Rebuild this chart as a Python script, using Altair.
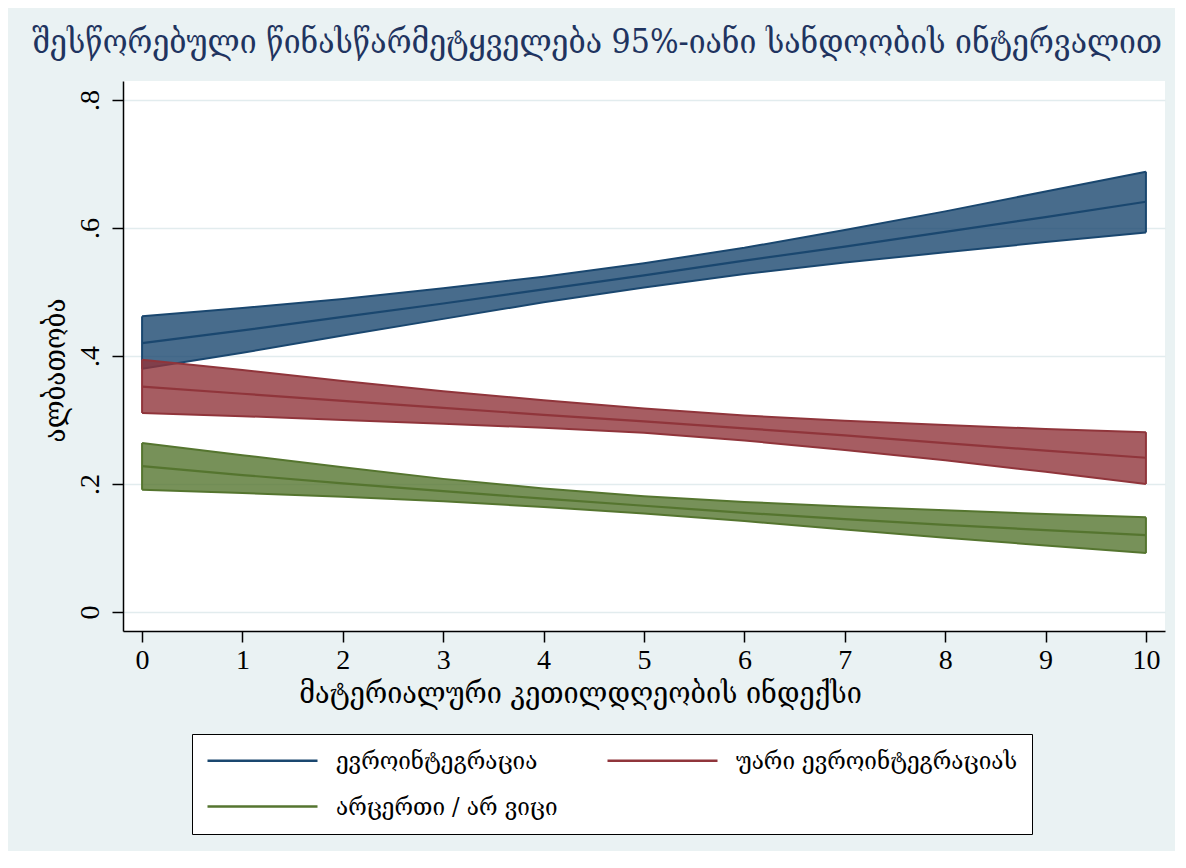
import altair as alt
import pandas as pd

# ---- data ----
x_vals = [0, 1, 2, 3, 4, 5, 6, 7, 8, 9, 10]

series_names = ["ევროინტეგრაცია", "უარი ევროინტეგრაციას", "არცერთი / არ ვიცი"]
series_colors = ["#1a476f", "#90353b", "#55752f"]

euro_mid = [0.420, 0.440, 0.461, 0.482, 0.504, 0.526, 0.549, 0.571, 0.594, 0.617, 0.641]
euro_hi = [0.462, 0.475, 0.489, 0.506, 0.524, 0.545, 0.569, 0.597, 0.626, 0.657, 0.688]
euro_lo = [0.380, 0.405, 0.432, 0.458, 0.484, 0.507, 0.528, 0.546, 0.562, 0.578, 0.593]

refuse_mid = [0.352, 0.341, 0.330, 0.319, 0.308, 0.298, 0.287, 0.276, 0.264, 0.252, 0.241]
refuse_hi = [0.394, 0.378, 0.361, 0.345, 0.331, 0.318, 0.307, 0.299, 0.292, 0.286, 0.281]
refuse_lo = [0.311, 0.306, 0.300, 0.294, 0.288, 0.280, 0.268, 0.253, 0.237, 0.219, 0.200]

none_mid = [0.228, 0.214, 0.201, 0.189, 0.177, 0.166, 0.155, 0.145, 0.136, 0.128, 0.120]
none_hi = [0.264, 0.245, 0.226, 0.208, 0.193, 0.181, 0.172, 0.165, 0.159, 0.153, 0.148]
none_lo = [0.191, 0.186, 0.180, 0.173, 0.164, 0.154, 0.142, 0.129, 0.116, 0.104, 0.092]

y_ticks = [0, 0.2, 0.4, 0.6, 0.8]

title_text = "შესწორებული წინასწარმეტყველება 95%-იანი სანდოობის ინტერვალით"
x_title = "მატერიალური კეთილდღეობის ინდექსი"
y_title = "ალბათობა"

rows = []
for k, (mids, his, los) in enumerate([
    (euro_mid, euro_hi, euro_lo),
    (refuse_mid, refuse_hi, refuse_lo),
    (none_mid, none_hi, none_lo),
]):
    for i, xv in enumerate(x_vals):
        rows.append({"x": xv, "series": series_names[k], "mid": mids[i],
                     "hi": his[i], "lo": los[i]})
df = pd.DataFrame(rows)

GEO = "DejaVu Serif Condensed, DejaVu Serif, DejaVu Sans"
NUM = "Liberation Serif, DejaVu Serif"

color_scale = alt.Scale(domain=series_names, range=series_colors)
x_scale = alt.Scale(domain=[-0.19, 10.19], nice=False, zero=False)
y_scale = alt.Scale(domain=[-0.0297, 0.8297], nice=False, zero=False)

# long horizontal line sample: path spans -1..9 units, scaled by sqrt(size)/2 = 11 px
legend = alt.Legend(
    title=None, orient="none", legendX=69, legendY=653, columns=2,
    direction="horizontal",
    symbolType="M-1,0L9,0", symbolSize=484, symbolStrokeWidth=2.5,
    labelFont=GEO, labelFontSize=25, labelColor="black", labelOffset=105,
    labelLimit=500, columnPadding=44, rowPadding=20, padding=14,
    strokeColor="black", fillColor="white",
)

color_enc = alt.Color("series:N", scale=color_scale, legend=legend)

x_enc = alt.X(
    "x:Q", scale=x_scale,
    axis=alt.Axis(
        values=x_vals, format="d", title=x_title, grid=False, domainColor="black",
        domainWidth=1.5, tickColor="black", tickWidth=1.5, tickSize=11,
        labelFont=NUM, labelFontSize=28, labelColor="black", labelBaseline="middle",
        labelPadding=18, labelFlush=False,
        titleFont=GEO, titleFontSize=30, titleFontWeight="normal", titleColor="black",
        titleX=457, titleY=62, titleBaseline="middle", titleAlign="center",
    ),
)

y_axis = alt.Axis(
    values=y_ticks, title=y_title, grid=True, gridColor="#E2ECEE", gridWidth=1.5,
    domainColor="black", domainWidth=1.5, tickColor="black", tickWidth=1.5, tickSize=11,
    labelFont=NUM, labelFontSize=28, labelColor="black", labelAngle=270,
    labelAlign="center", labelBaseline="middle", labelPadding=22,
    labelExpr="datum.value == 0 ? '0' : replace(format(datum.value, '.1f'), '0.', '.')",
    titleFont=GEO, titleFontSize=29, titleFontWeight="normal", titleColor="black",
    titleAngle=270, titleX=-68, titleY=289, titleBaseline="middle", titleAlign="center",
)

base = alt.Chart(df)
layers = []
for k, name in enumerate(series_names):
    sub = base.transform_filter(alt.datum.series == name)
    area = sub.mark_area(fillOpacity=0.8, strokeWidth=0).encode(
        x=x_enc if k == 0 else alt.X("x:Q", scale=x_scale),
        y=alt.Y("lo:Q", scale=y_scale, axis=y_axis) if k == 0 else alt.Y("lo:Q", scale=y_scale),
        y2="hi:Q",
        color=color_enc,
    )
    lo_edge = sub.mark_line(strokeWidth=2).encode(
        x=alt.X("x:Q", scale=x_scale), y=alt.Y("lo:Q", scale=y_scale), color=color_enc)
    hi_edge = sub.mark_line(strokeWidth=2).encode(
        x=alt.X("x:Q", scale=x_scale), y=alt.Y("hi:Q", scale=y_scale), color=color_enc)
    ends = sub.transform_filter(
        (alt.datum.x == x_vals[0]) | (alt.datum.x == x_vals[-1])
    ).mark_rule(strokeWidth=2).encode(
        x=alt.X("x:Q", scale=x_scale), y=alt.Y("lo:Q", scale=y_scale), y2="hi:Q",
        color=color_enc)
    layers += [area, lo_edge, hi_edge, ends]

mids = base.mark_line(strokeWidth=2.2).encode(
    x=alt.X("x:Q", scale=x_scale),
    y=alt.Y("mid:Q", scale=y_scale),
    color=color_enc,
)
layers.append(mids)

chart = alt.layer(*layers).properties(
    width=1042, height=550,
    autosize=alt.AutoSizeParams(type="none"),
    padding={"left": 115, "top": 73, "right": 10, "bottom": 220},
    title=alt.TitleParams(
        title_text, font=GEO, fontSize=33.5, fontWeight="normal", color="#1f3460",
        anchor="middle", offset=5, baseline="middle", dx=-47,
    ),
).configure(background="#EAF2F3").configure_view(fill="white", stroke=None)

chart.save("out.html", embed_options={"renderer": "svg", "actions": False})
